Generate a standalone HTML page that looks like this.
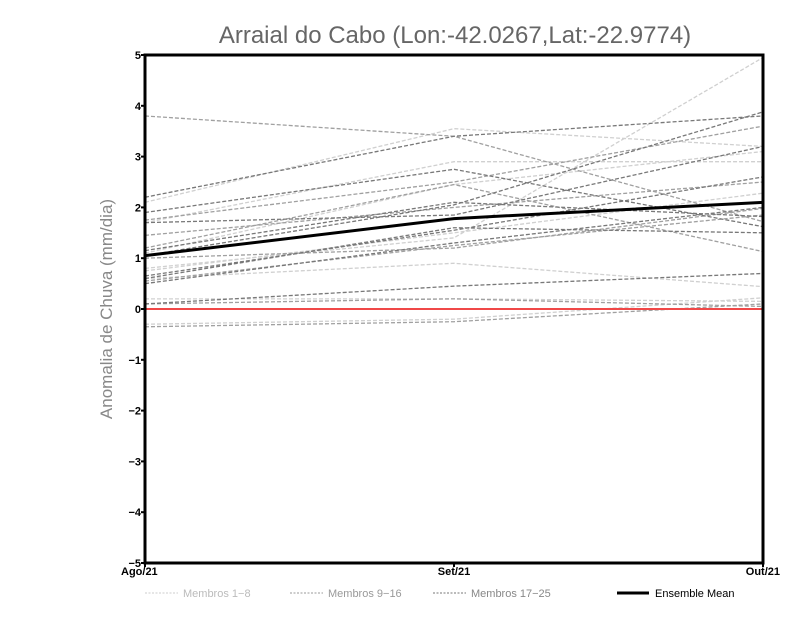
<!DOCTYPE html>
<html><head><meta charset="utf-8"><style>
body{margin:0;background:#fff;width:800px;height:618px;overflow:hidden}
svg{display:block}
text{font-family:"Liberation Sans",sans-serif}
</style></head><body>
<svg id="chart" width="800" height="618">
<text x="455" y="43" text-anchor="middle" font-size="24" fill="#666" style="font-weight:300">Arraial do Cabo (Lon:-42.0267,Lat:-22.9774)</text>
<text transform="translate(112,309) rotate(-90)" text-anchor="middle" font-size="17" fill="#888">Anomalia de Chuva (mm/dia)</text>
<g id="marks"></g>
<g id="axes"></g>
<g>
<line x1="145" y1="593" x2="178" y2="593" stroke="#ccc" stroke-dasharray="2,1.5"/>
<text x="183" y="597" font-size="11" fill="#bbb">Membros 1−8</text>
<line x1="290" y1="593" x2="323" y2="593" stroke="#999" stroke-dasharray="2,1.5"/>
<text x="328" y="597" font-size="11" fill="#999">Membros 9−16</text>
<line x1="433" y1="593" x2="466" y2="593" stroke="#777" stroke-dasharray="2,1.5"/>
<text x="471" y="597" font-size="11" fill="#888">Membros 17−25</text>
<line x1="617" y1="593" x2="649" y2="593" stroke="#000" stroke-width="3"/>
<text x="655" y="597" font-size="11" fill="#000">Ensemble Mean</text>
</g>
</svg>
<script>
const categories=["Ago/21","Set/21","Out/21"];
const yTicks=[-5,-4,-3,-2,-1,0,1,2,3,4,5];
const members1to8=[[2.1,3.55,3.2],[0.8,1.4,4.95],[1.1,2.45,3.1],[0.6,0.9,0.44],[0.2,0.2,0.15],[-0.3,-0.2,0.22],[1.7,2.9,2.9],[0.75,1.5,2.28]];
const members9to16=[[3.8,3.4,1.72],[1.75,2.5,3.6],[1.0,1.2,1.98],[0.55,1.25,1.85],[0.1,0.2,0.05],[-0.35,-0.25,0.1],[1.2,2.45,1.13],[1.45,2.0,2.5]];
const members17to25=[[2.2,3.4,3.8],[1.9,2.75,1.62],[1.05,2.05,3.88],[0.65,1.55,2.6],[0.1,0.45,0.7],[1.15,2.1,1.82],[0.6,1.6,1.5],[1.7,1.85,3.2],[0.5,1.3,2.0]];
const ensembleMean=[1.05,1.78,2.1];
const NS="http://www.w3.org/2000/svg";
const L=145,R=763,T=55,B=563;
const xs=i=>L+(R-L)*i/(categories.length-1);
const ys=v=>T+(5-v)*(B-T)/10;
const marks=document.getElementById('marks'),axes=document.getElementById('axes');
function mk(tag,attrs,parent){const e=document.createElementNS(NS,tag);for(const k in attrs)e.setAttribute(k,attrs[k]);parent.appendChild(e);return e;}
function series(arr,color,name){arr.forEach((d,j)=>{const p=mk('polyline',{points:d.map((v,i)=>xs(i)+','+ys(v)).join(' '),fill:'none',stroke:color,'stroke-width':1.3,'stroke-dasharray':'4,2'},marks);

});}
series(members1to8,'#d0d0d0','member-light');
series(members9to16,'#a0a0a0','member-medium');
series(members17to25,'#787878','member-dark');
const z=mk('line',{x1:L,x2:R,y1:ys(0),y2:ys(0),stroke:'#f04848','stroke-width':2},marks);


const m=mk('polyline',{points:ensembleMean.map((v,i)=>xs(i)+','+ys(v)).join(' '),fill:'none',stroke:'#000','stroke-width':3},marks);


const f=mk('rect',{x:L,y:T,width:R-L,height:B-T,fill:'none',stroke:'#000','stroke-width':3},axes);


yTicks.forEach(v=>{mk('line',{x1:L-4,x2:L,y1:ys(v),y2:ys(v),stroke:'#000','stroke-width':2},axes);
const t=mk('text',{x:L-4,y:ys(v)+4,'text-anchor':'end','font-size':11,'font-weight':'bold'},axes);t.textContent=(v<0?'−':'')+Math.abs(v);

});
categories.forEach((c,i)=>{mk('line',{x1:xs(i),x2:xs(i),y1:B,y2:B+4,stroke:'#000','stroke-width':2},axes);
const t=mk('text',{x:xs(i),y:B+12,'text-anchor':i==0?'start':(i==categories.length-1?'end':'middle'),'font-size':11,'font-weight':'bold'},axes);
if(i==0)t.setAttribute('x',xs(i)-24);if(i==categories.length-1)t.setAttribute('x',xs(i)+17);
t.textContent=c;

});
</script>
</body></html>
